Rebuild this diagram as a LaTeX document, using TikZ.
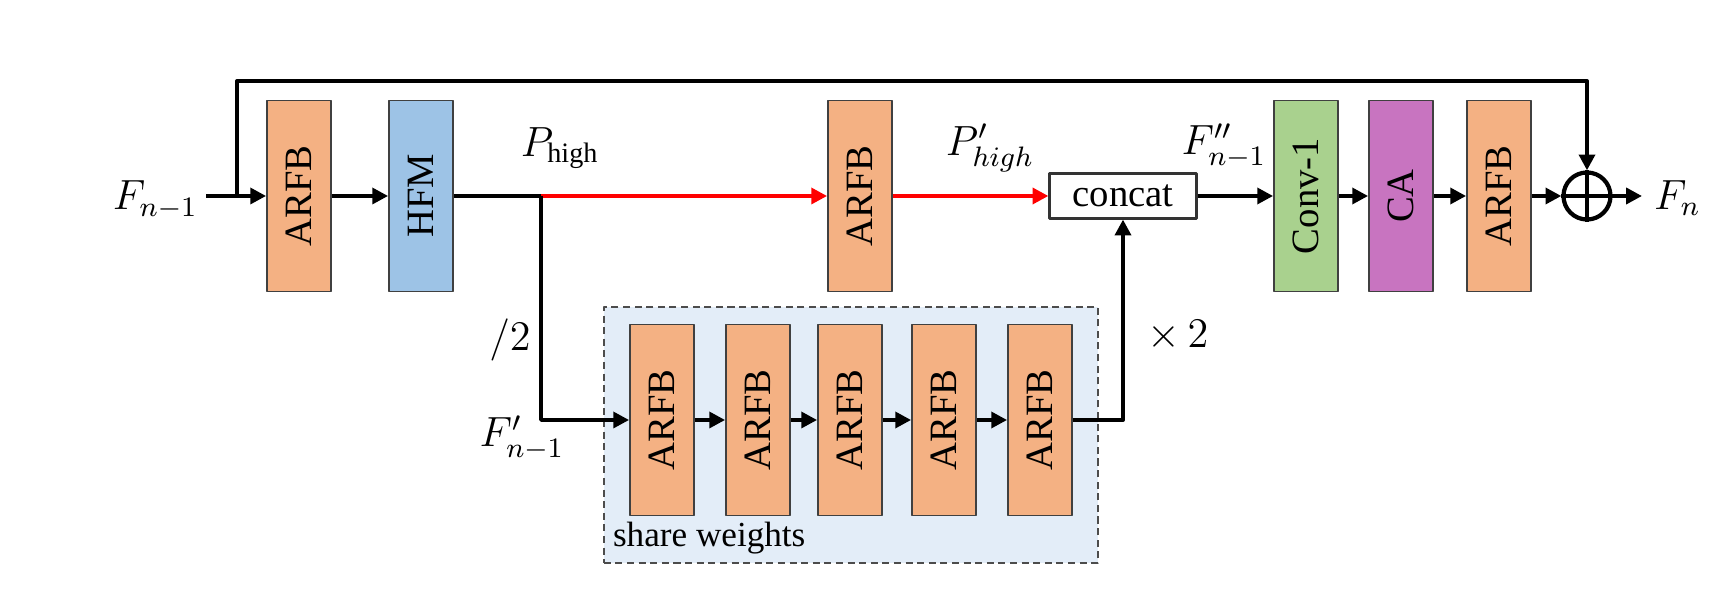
\documentclass[tikz,border=0pt]{standalone}
\usepackage{amsmath}
\usepackage{fontspec}
\setmainfont{Liberation Serif}
\usetikzlibrary{arrows.meta,calc}
\definecolor{arfbc}{HTML}{F4B183}
\definecolor{hfmc}{HTML}{9DC3E6}
\definecolor{convc}{HTML}{A9D18E}
\definecolor{cac}{HTML}{C874C0}
\definecolor{sharec}{HTML}{E3EDF8}

\begin{document}
\begin{tikzpicture}[x=0.01cm,y=-0.01cm,>={Triangle[length=4.5pt,width=4.5pt]},line join=round,
  blk/.style={draw=black!75,line width=0.5pt,minimum width=0.64cm,minimum height=1.91cm,inner sep=0pt,font=\fontsize{11}{13}\selectfont},
  wire/.style={line width=1.1pt},
  redwire/.style={line width=1.1pt,red},
  lbl/.style={font=\fontsize{12}{14}\selectfont,inner sep=1pt}]
  \useasboundingbox (0,0) rectangle (1720,592);
  % shared branch background
  \node[draw=black!70,dash pattern=on 2pt off 1.3pt,line width=0.6pt,fill=sharec,minimum width=4.94cm,minimum height=2.56cm] (share) at (851,435) {};
  \node[font=\fontsize{10}{12}\selectfont,anchor=south west,inner sep=1pt] (sharetxt) at ($(share.south west)+(6,-6)$) {share weights};
  % upper path
  \node[blk,fill=arfbc] (arfbA) at (299,196) {\rotatebox{90}{ARFB}};
  \node[blk,fill=hfmc] (hfm) at (421,196) {\rotatebox{90}{HFM}};
  \node[blk,fill=arfbc] (arfbB) at (860,196) {\rotatebox{90}{ARFB}};
  \node[draw=black!80,line width=0.6pt,minimum width=1.47cm,minimum height=0.45cm,inner sep=0pt,font=\fontsize{11}{13}\selectfont] (concat) at (1123,196) {concat};
  \node[blk,fill=convc] (conv) at (1306,196) {\rotatebox{90}{Conv-1}};
  \node[blk,fill=cac] (ca) at (1401,196) {\rotatebox{90}{CA}};
  \node[blk,fill=arfbc] (arfbC) at (1499,196) {\rotatebox{90}{ARFB}};
  \node[circle,draw,line width=1.2pt,minimum size=0.47cm,inner sep=0pt] (add) at (1587,196) {};
  \draw[line width=1.2pt] (add.north) -- (add.south) (add.west) -- (add.east);
  % lower path
  \node[blk,fill=arfbc] (b1) at (662,420) {\rotatebox{90}{ARFB}};
  \node[blk,fill=arfbc] (b2) at (758,420) {\rotatebox{90}{ARFB}};
  \node[blk,fill=arfbc] (b3) at (850,420) {\rotatebox{90}{ARFB}};
  \node[blk,fill=arfbc] (b4) at (944,420) {\rotatebox{90}{ARFB}};
  \node[blk,fill=arfbc] (b5) at (1040,420) {\rotatebox{90}{ARFB}};
  \coordinate (in0) at (206,196);
  \coordinate (skip) at (237,196);
  \coordinate (topY) at (0,81);
  \coordinate (split) at (541,196);
  \coordinate (out) at (1642,196);
  % connectors
  \draw[wire,->] (in0) -- (arfbA.west);
  \draw[wire,->] (skip) |- (add |- topY) -- (add.north);
  \draw[wire,->] (arfbA.east) -- (hfm.west);
  \draw[wire] (hfm.east) -- (split);
  \draw[redwire,->] (split) -- (arfbB.west);
  \draw[redwire,->] (arfbB.east) -- (concat.west);
  \draw[wire,->] (split) |- (b1.west);
  \draw[wire,->] (b1.east) -- (b2.west);
  \draw[wire,->] (b2.east) -- (b3.west);
  \draw[wire,->] (b3.east) -- (b4.west);
  \draw[wire,->] (b4.east) -- (b5.west);
  \draw[wire,->] (b5.east) -| (concat.south);
  \draw[wire,->] (concat.east) -- (conv.west);
  \draw[wire,->] (conv.east) -- (ca.west);
  \draw[wire,->] (ca.east) -- (arfbC.west);
  \draw[wire,->] (arfbC.east) -- (add.west);
  \draw[wire,->] (add.east) -- (out);
  % labels
  \node[lbl,anchor=east] (fin) at ($(in0)+(-4,4)$) {$F_{n-1}$};
  \node[lbl] (phigh) at (560,148) {$P_{\text{high}}$};
  \node[lbl] (phighp) at (990,148) {$P'_{high}$};
  \node[lbl] (fpp) at (1224,146) {$F''_{n-1}$};
  \node[lbl,anchor=west] (fout) at ($(out)+(8,2)$) {$F_n$};
  \node[lbl] (half) at (510,340) {$/2$};
  \node[lbl] (fp) at (522,438) {$F'_{n-1}$};
  \node[lbl] (twice) at (1178,336) {$\times\,2$};
\end{tikzpicture}
\end{document}
